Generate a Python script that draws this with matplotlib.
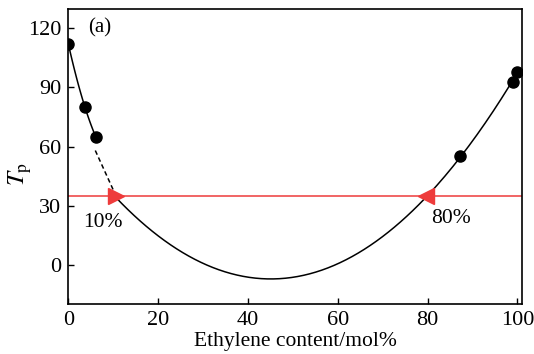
import numpy as np
import matplotlib
matplotlib.use("Agg")
import matplotlib.pyplot as plt

plt.rcParams['font.family'] = ['Liberation Serif', 'DejaVu Serif']
plt.rcParams['mathtext.fontset'] = 'stix'

# measured points
x_pts = [0.0, 3.7, 6.1, 87.2, 99.0, 99.9]
t_pts = [112.0, 80.0, 65.0, 55.0, 93.0, 98.0]

# points
left_x = [0.0, 3.7, 6.1]
left_t = [112.0, 80.0, 65.0]
dash_x = [6.0, 10.6]
dash_t = [58.0, 35.0]
fit_x = [10.6, 17.7, 45.0, 71.8, 80.0, 87.2, 99.0, 100.0]
fit_t = [35.0, 17.8, -7.0, 17.7, 35.0, 55.0, 93.0, 98.0]

tp_level = 35
cross_x = [10.6, 79.6]
cross_lbl = ['10%', '80%']
lbl_x = [7.8, 85.3]
lbl_t = [21.4, 23.4]

fig = plt.figure(figsize=(5.34, 3.54), dpi=100)
ax = fig.add_axes([0.128, 0.1405, 0.8495, 0.8352])

# left branch
p_left = np.polyfit(left_x, left_t, 2)
xl = np.linspace(left_x[0], left_x[-1], 50)
ax.plot(xl, np.polyval(p_left, xl), color='black', lw=1.1)
ax.plot(dash_x, dash_t, color='black', lw=1.1, ls=(0, (3, 2)))

# main fit
p_fit = np.polyfit(fit_x, fit_t, 2)
xf = np.linspace(fit_x[0], fit_x[-1], 200)
ax.plot(xf, np.polyval(p_fit, xf), color='black', lw=1.1)

ax.plot(x_pts, t_pts, 'o', color='black', ms=8, zorder=5)

ax.axhline(tp_level, color='#ee3b3b', lw=1.1)
ax.plot(cross_x[0], tp_level, '>', color='#ee3b3b', ms=12, zorder=6)
ax.plot(cross_x[1], tp_level, '<', color='#ee3b3b', ms=12, zorder=6)
for xx, tt, s in zip(lbl_x, lbl_t, cross_lbl):
    ax.text(xx, tt, s, fontsize=15.5, ha='center', va='center')

ax.text(4.4, 120, '(a)', fontsize=15, ha='left', va='center')

ax.set_xlim(0, 101)
ax.set_ylim(-20, 130)
ax.set_xticks([0, 20, 40, 60, 80, 100])
ax.set_yticks([0, 30, 60, 90, 120])
ax.tick_params(direction='in', length=4, width=1, labelsize=16, pad=5)
for s in ax.spines.values():
    s.set_linewidth(1.2)
ax.set_xlabel('Ethylene content/mol%', fontsize=15.5, labelpad=1)
fig.text(20 / 534, 0.51, r'$T_{\rm p}$', fontsize=18, rotation=90,
         ha='center', va='center')

fig.savefig('out.png', dpi=100)
